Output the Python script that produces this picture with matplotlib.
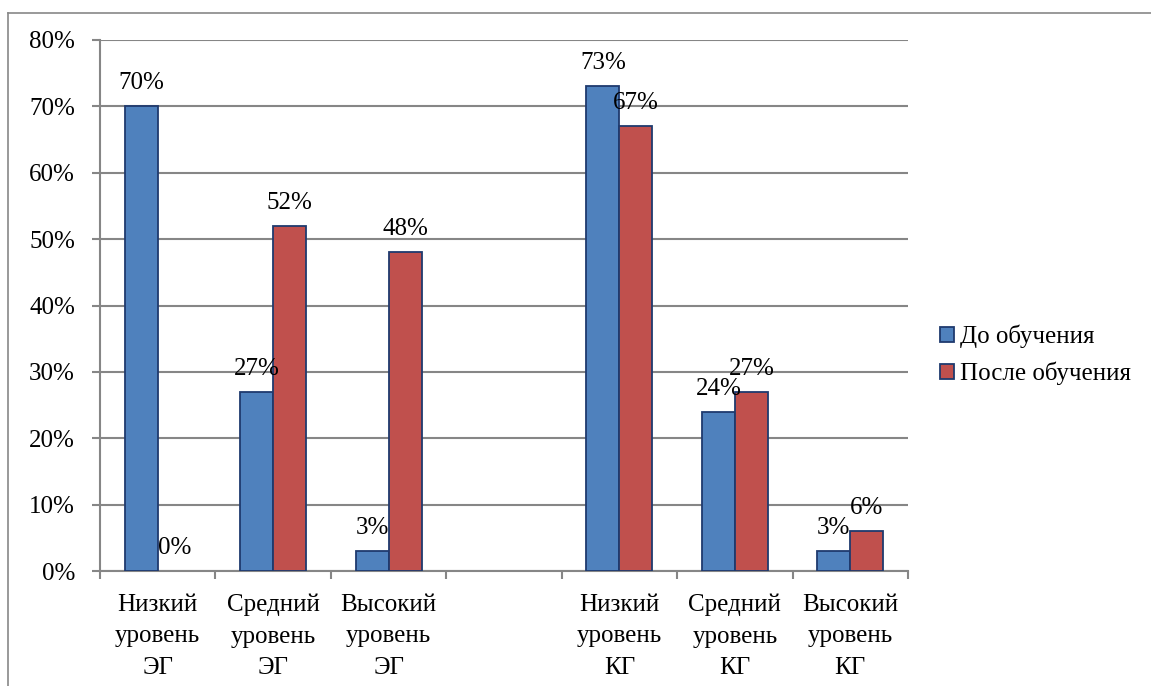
import matplotlib
matplotlib.use("Agg")
import matplotlib.pyplot as plt
from matplotlib.lines import Line2D
from matplotlib.patches import Patch
import numpy as np

plt.rcParams['font.family'] = 'serif'
plt.rcParams['font.serif'] = ['Liberation Serif', 'DejaVu Serif']

categories = ["Низкий\nуровень\nЭГ", "Средний\nуровень\nЭГ", "Высокий\nуровень\nЭГ", "",
              "Низкий\nуровень\nКГ", "Средний\nуровень\nКГ", "Высокий\nуровень\nКГ"]
before = [0.70, 0.27, 0.03, np.nan, 0.73, 0.24, 0.03]
after = [0.00, 0.52, 0.48, np.nan, 0.67, 0.27, 0.06]
series_names = ["До обучения", "После обучения"]

blue = "#4F81BD"
red = "#C0504D"
edge = "#1F3A6E"
grid_c = "#868686"

fig = plt.figure(figsize=(11.51, 6.86), dpi=100)
ax = fig.add_axes([0.0869, 0.1676, 0.7020, 0.7741])

x = np.arange(len(categories))
w = 0.286
b1 = ax.bar(x - w / 2, before, w, color=blue, edgecolor=edge, linewidth=1.3, zorder=3)
b2 = ax.bar(x + w / 2, after, w, color=red, edgecolor=edge, linewidth=1.3, zorder=3)
# zero-height bars are not drawn in the original
for bar in list(b1) + list(b2):
    if not bar.get_height() > 0:
        bar.set_visible(False)

for xs, vals in ((x - w / 2, before), (x + w / 2, after)):
    for xi, v in zip(xs, vals):
        if np.isnan(v):
            continue
        ax.annotate(f"{round(v * 100)}%", (xi, v), xytext=(0, 17), textcoords="offset pixels",
                    ha="center", va="baseline", fontsize=18, zorder=5)

ax.set_xlim(-0.5, len(categories) - 0.5)
ax.set_ylim(0, 0.8)
ax.set_yticks(np.arange(0, 0.81, 0.1))
ax.set_yticklabels([f"{int(round(t * 100))}%" for t in np.arange(0, 0.81, 0.1)], fontsize=18)
ax.yaxis.grid(True, color=grid_c, linewidth=1.5, zorder=0)
ax.set_axisbelow(True)

ax.set_xticks(x)
ax.set_xticklabels(categories, fontsize=18, linespacing=1.55)
ax.set_xticks(np.arange(-0.5, len(categories)), minor=True)
ax.tick_params(axis="x", which="major", length=0, pad=16.5)
ax.tick_params(axis="x", which="minor", length=6, width=1.5, color=grid_c)
ax.tick_params(axis="y", length=6, width=1.5, color=grid_c, pad=12)

for s in ("top", "right"):
    ax.spines[s].set_visible(False)
for s in ("left", "bottom"):
    ax.spines[s].set_color(grid_c)
    ax.spines[s].set_linewidth(1.5)

handles = [Patch(facecolor=blue, edgecolor=edge, linewidth=1.3),
           Patch(facecolor=red, edgecolor=edge, linewidth=1.3)]
fig.legend(handles, series_names, loc="center left", bbox_to_anchor=(0.808, 0.4825),
           frameon=False, fontsize=18, handlelength=0.55, handleheight=0.55,
           handletextpad=0.25, labelspacing=0.55, borderaxespad=0)

# outer frame (top and left edges visible)
fig.add_artist(Line2D([8 / 1151, 1.0], [1 - 13 / 686, 1 - 13 / 686],
                      transform=fig.transFigure, color="#888888", linewidth=1.2))
fig.add_artist(Line2D([8 / 1151, 8 / 1151], [0, 1 - 13 / 686],
                      transform=fig.transFigure, color="#888888", linewidth=1.2))

fig.savefig("out.png", dpi=100, facecolor="white")
